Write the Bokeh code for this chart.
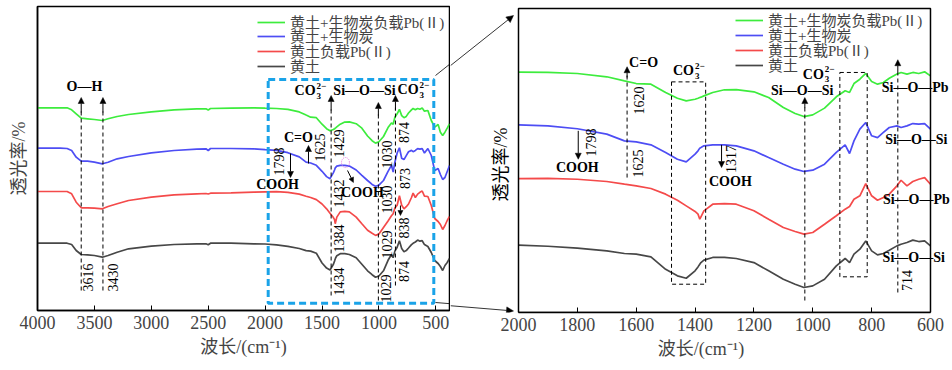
import math
from bokeh.plotting import figure
from bokeh.models import (Range1d, FixedTicker, Label, Arrow, NormalHead, Legend,
                          LegendItem)
from bokeh.layouts import row
from bokeh.embed import file_html
from bokeh.resources import INLINE

# ---------------- data (FTIR spectra, arbitrary transmittance units) ----------------
wavenumber = [4000, 3800, 3740, 3700, 3660, 3616, 3560, 3500, 3430, 3380, 3300, 3200,
              3000, 2800, 2600, 2520, 2500, 2480, 2300, 2100, 2000, 1900, 1800, 1700,
              1640, 1600, 1550, 1500, 1460, 1430, 1400, 1390, 1384, 1380, 1370, 1340,
              1300, 1260, 1200, 1150, 1100, 1060, 1030, 1000, 960, 920, 890, 875, 860,
              840, 820, 800, 780, 760, 740, 714, 700, 680, 660, 640, 620, 600, 570, 540,
              510, 480, 460, 440, 420, 400, 380]

loess_biochar_pb = [202.7, 202.7, 202.7, 200.7, 196.7, 192.3, 191.7, 191.0, 190.0, 191.7,
                    194.0, 196.0, 198.7, 200.7, 201.7, 201.7, 200.5, 202.0, 202.3, 202.7,
                    202.3, 202.0, 201.2, 198.6, 195.4, 193.3, 192.8, 186.3, 181.8, 179.7,
                    181.0, 181.8, 182.3, 182.6, 183.6, 186.3, 188.4, 188.6, 186.8, 182.3,
                    174.5, 169.8, 167.4, 168.7, 174.0, 182.9, 187.6, 186.3, 193.3, 196.7,
                    201.2, 194.9, 192.8, 194.1, 197.5, 200.7, 202.0, 200.7, 202.0, 201.2,
                    202.5, 199.3, 200.0, 190.0, 183.3, 186.0, 178.3, 175.0, 178.3, 182.3,
                    186.7]

loess_biochar = [162.3, 162.3, 162.0, 160.0, 153.3, 149.3, 149.3, 148.3, 146.7, 148.3,
                 151.7, 154.0, 157.7, 160.0, 161.3, 161.7, 160.0, 162.0, 162.0, 161.7,
                 160.8, 160.1, 157.8, 153.6, 148.3, 147.5, 145.2, 139.2, 133.9, 131.8,
                 137.9, 140.5, 142.6, 143.1, 144.4, 145.2, 145.2, 144.4, 140.5, 135.2,
                 130.0, 126.1, 124.3, 125.3, 130.0, 139.2, 145.2, 138.4, 148.3, 157.5,
                 162.7, 152.3, 150.9, 154.9, 158.8, 160.1, 158.8, 160.1, 161.9, 161.4,
                 161.9, 157.5, 162.0, 155.0, 140.0, 142.0, 136.0, 131.0, 133.0, 139.0,
                 145.0]

loess_pb = [119.0, 119.0, 119.0, 116.7, 108.3, 102.7, 102.7, 102.3, 101.7, 104.0,
            106.7, 110.0, 113.3, 115.7, 116.7, 117.0, 116.5, 117.3, 117.7, 118.3,
            118.6, 118.8, 118.2, 116.4, 114.3, 113.0, 110.9, 106.5, 101.7, 97.3,
            92.9, 90.8, 86.8, 88.7, 93.4, 98.6, 99.1, 98.6, 93.4, 86.8,
            80.3, 77.2, 75.1, 76.4, 82.9, 89.5, 94.7, 96.8, 102.5, 105.2,
            114.8, 105.2, 101.7, 103.8, 106.5, 113.0, 117.4, 113.0, 116.4, 118.2,
            119.5, 114.3, 114.0, 105.0, 92.0, 89.0, 86.0, 81.0, 85.0, 90.0,
            94.0]

loess = [67.3, 67.3, 67.3, 66.0, 60.0, 56.0, 55.7, 55.0, 53.3, 55.0,
         58.3, 61.7, 64.3, 66.0, 66.7, 66.7, 65.7, 67.3, 67.3, 66.7,
         66.5, 65.6, 64.1, 62.0, 59.9, 59.4, 57.3, 47.5, 42.4, 40.5,
         46.3, 49.4, 51.5, 52.8, 54.7, 56.8, 56.8, 56.0, 52.8, 46.3,
         39.7, 35.8, 33.2, 34.5, 39.7, 50.2, 56.0, 52.8, 59.4, 63.3,
         69.8, 62.0, 58.8, 59.9, 62.5, 65.9, 67.2, 68.5, 70.4, 69.3,
         69.8, 65.9, 64.0, 58.0, 50.0, 47.0, 44.0, 40.0, 45.0, 48.0,
         52.0]

series_names = ["黄土+生物炭负载Pb(Ⅱ)", "黄土+生物炭", "黄土负载Pb(Ⅱ)", "黄土"]
series_values = [loess_biochar_pb, loess_biochar, loess_pb, loess]
series_colors = ["#3dec3d", "#4d4df4", "#f44a4a", "#474747"]

left_ticks = [4000, 3500, 3000, 2500, 2000, 1500, 1000, 500]
right_ticks = [2000, 1800, 1600, 1400, 1200, 1000, 800, 600]

SERIF = "Liberation Serif"
MIXED = "Liberation Serif, Noto Sans CJK SC"


def make_fig(xr, yr, ticks, fw, fh, bl, br, bt, bb, wmax, wmin):
    p = figure(frame_width=fw, frame_height=fh, x_range=Range1d(*xr),
               y_range=Range1d(*yr), output_backend="svg", toolbar_location=None,
               min_border_left=bl, min_border_right=br, min_border_top=bt,
               min_border_bottom=bb)
    p.grid.visible = False
    p.outline_line_color = "black"
    p.outline_line_width = 1.5
    p.background_fill_color = "white"
    p.border_fill_color = "white"
    ax = p.xaxis[0]
    ax.ticker = FixedTicker(ticks=ticks)
    ax.major_tick_in = 5
    ax.major_tick_out = 0
    ax.minor_tick_line_color = None
    ax.axis_line_width = 1.5
    ax.major_label_text_font = SERIF
    ax.major_label_text_font_size = "18px"
    ax.major_label_standoff = 5
    ax.axis_label = "波长/(cm⁻¹)"
    ax.axis_label_text_font = MIXED
    ax.axis_label_text_font_size = "18px"
    ax.axis_label_text_font_style = "normal"
    ax.axis_label_standoff = 5
    ay = p.yaxis[0]
    ay.ticker = FixedTicker(ticks=[])
    ay.minor_tick_line_color = None
    ay.axis_line_width = 1.5
    ay.axis_label = "透光率/%"
    ay.axis_label_text_font = MIXED
    ay.axis_label_text_font_size = "18px"
    ay.axis_label_text_font_style = "normal"
    ay.axis_label_standoff = 9
    idx = [i for i, w in enumerate(wavenumber) if wmin <= w <= wmax]
    xs = [wavenumber[i] for i in idx]
    rends = []
    for vals, c in zip(series_values, series_colors):
        rends.append(p.line(xs, [vals[i] for i in idx], line_color=c, line_width=1.7))
    return p, rends


def lab(p, x, y, text, size=14, angle=0.0, bold=False, align="center", xo=0, yo=0,
        font=SERIF):
    p.add_layout(Label(x=x, y=y, text=text, text_font=font,
                       text_font_size=f"{size}px",
                       text_font_style="bold" if bold else "normal",
                       angle=angle, text_align=align, text_baseline="middle",
                       x_offset=xo, y_offset=yo, text_color="black"))


def vlab(p, x, y, text):
    lab(p, x, y, text, size=14, angle=math.pi / 2)


def co3(p, x, y):
    lab(p, x, y, "CO", bold=True, align="right")
    lab(p, x, y, "2−", size=9, bold=True, align="left", xo=1, yo=5)
    lab(p, x, y, "3", size=9, bold=True, align="left", xo=1, yo=-5)


def arr(p, x0, y0, x1, y1, size=6, width=1.0):
    p.add_layout(Arrow(end=NormalHead(size=size, fill_color="black", line_color="black",
                                      line_width=0.5),
                       x_start=x0, y_start=y0, x_end=x1, y_end=y1,
                       line_color="black", line_width=width))


def dashed(p, xs, y0s, y1s):
    p.segment(x0=xs, y0=y0s, x1=xs, y1=y1s, line_color="black", line_width=1,
              line_dash="4 3")


def legend(p, rends, x, ys):
    # one single-item legend per row, so the row pitch can be set exactly
    for n, r, y in zip(series_names, rends, ys):
        lg = Legend(items=[LegendItem(label=n, renderers=[r])], location=(x, y),
                    border_line_color=None, background_fill_alpha=0, padding=0,
                    margin=0, spacing=0, glyph_width=28, glyph_height=14,
                    label_height=14, label_standoff=5, label_text_font=MIXED,
                    label_text_font_size="15px", label_text_baseline="middle")
        p.add_layout(lg)


# ---------------- left panel ----------------
pl, rl = make_fig((4000, 380), (0, 304), left_ticks, 412, 304, 37, 1, 6, 56, 4000, 380)
legend(pl, rl, 220, [278, 264, 249, 234])

pl.quad(left=[1973], right=[518], bottom=[7.3], top=[231], fill_alpha=0,
        line_color="#1aa3e8", line_width=3, line_dash="7 4")

dashed(pl, [3616, 3425, 1420, 1005, 855], [20, 20, 15, 10, 25], [200, 200, 203, 198, 203])
for xw, y0, y1 in [(3616, 198, 213), (3425, 198, 213), (1420, 200, 215),
                   (1005, 195, 208), (855, 200, 215)]:
    arr(pl, xw, y0, xw, y1)
arr(pl, 1619, 147, 1619, 165)
arr(pl, 1777, 157, 1777, 133)
arr(pl, 1276, 140, 1224, 128, size=5)
arr(pl, 811, 105, 811, 95, size=5)
pl.ellipse(x=[1294], y=[148], width=[70], height=[10], fill_alpha=0,
           line_color="#e27be2", line_dash="1 1", line_width=1)

lab(pl, 3587, 224, "O—H", bold=True)
co3(pl, 1557, 220)
lab(pl, 1127, 220, "Si—O—Si", bold=True)
co3(pl, 652, 220.7)
lab(pl, 1707, 173, "C=O", bold=True)
lab(pl, 1891, 126, "COOH", bold=True)
lab(pl, 1145, 118, "COOH", bold=True)
for xw, yv, t in [(3552, 33, "3616"), (3341, 33, "3430"), (1514, 163, "1625"),
                  (1350, 167, "1429"), (1874, 149, "1798"), (1350, 117, "1432"),
                  (1350, 72, "1384"), (1350, 29, "1434"), (925, 156, "1030"),
                  (925, 111, "1030"), (925, 66, "1029"), (934, 22, "1029"),
                  (784, 178, "874"), (775, 132, "873"), (784, 82.5, "838"),
                  (784, 39, "874")]:
    vlab(pl, xw, yv, t)

# connector (part inside left panel)
pl.segment(x0=[503, 503], y0=[235, 8], x1=[354, 354], y1=[248.5, 6.6],
           line_color="black", line_width=0.8)

# ---------------- right panel (frame also covers the gap, border drawn as a box) ----------------
pr, rr = make_fig((2231.07, 528.6), (13.6, 253.77), right_ticks, 501, 306, 0, 0, 4, 56,
                  2000, 600)
pr.outline_line_color = None
pr.yaxis.visible = False
pr.xaxis.bounds = (600, 2000)
legend(pr, rr, 285, [282, 267, 252, 237])

pr.quad(left=[2000], right=[600], bottom=[13.6], top=[252.2], fill_alpha=0,
        line_color="black", line_width=1.5)
lab(pr, 2061, 129.7, "透光率/%", size=18, angle=math.pi / 2, font=MIXED)

pr.quad(left=[1480, 908], right=[1364, 815], bottom=[35.8, 41.6], top=[194.6, 202],
        fill_alpha=0, line_color="black", line_width=1, line_dash="4 3")
dashed(pr, [1631, 1027, 711], [119.5, 23, 29.3], [200.4, 176, 200])
arr(pr, 1631, 198, 1631, 206.5)
arr(pr, 1797, 156.2, 1797, 133.9)
arr(pr, 1310, 145.2, 1310, 127.4)
arr(pr, 1027, 174, 1027, 182.3)
arr(pr, 711, 200, 711, 212)

lab(pr, 1575, 209.8, "C=O", bold=True)
co3(pr, 1404, 203.5)
co3(pr, 962.6, 200.6)
lab(pr, 1800, 127.4, "COOH", bold=True)
lab(pr, 1280, 116.2, "COOH", bold=True)
lab(pr, 1036, 187.8, "Si—O—Si", bold=True)
lab(pr, 652, 190.2, "Si—O—Pb", bold=True)
lab(pr, 648, 149.1, "Si—O—Si", bold=True)
lab(pr, 648, 102, "Si—O—Pb", bold=True)
lab(pr, 657, 56.8, "Si—O—Si", bold=True)
for xw, yv, t in [(1592, 180, "1620"), (1595, 130.5, "1625"), (1755, 147, "1798"),
                  (1277, 134, "1317"), (679, 38.7, "714")]:
    vlab(pr, xw, yv, t)

# connector arrows (part between panels)
arr(pr, 2231, 207.4, 2017, 246.7, size=7, width=0.8)
arr(pr, 2231, 18.9, 2017, 14.8, size=7, width=0.8)

layout = row(pl, pr, spacing=0)
open("out.html", "w").write(file_html(layout, INLINE))
